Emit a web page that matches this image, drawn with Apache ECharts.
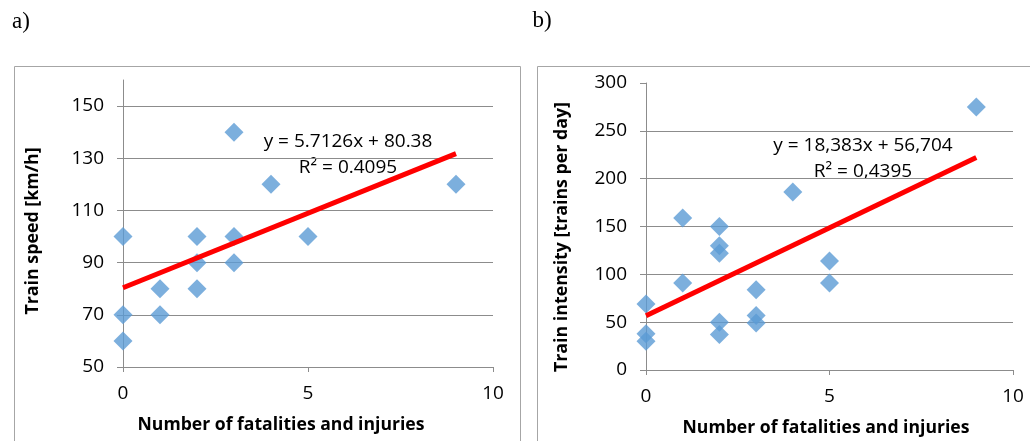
<!DOCTYPE html>
<html>
<head>
<meta charset="utf-8">
<title>fatalities scatter</title>
<script src="https://cdn.jsdelivr.net/npm/echarts@6/dist/echarts.min.js"></script>
<style>
    html, body { margin: 0; padding: 0; background: #fff; }
    #chart { width: 1030px; height: 441px; }
</style>
</head>
<body>
<div id="chart"></div>
<script>
// a) number of fatalities and injuries vs train speed
var speedX = [0, 0, 0, 1, 1, 2, 2, 2, 3, 3, 3, 4, 5, 9];
var speedY = [100, 70, 60, 80, 70, 100, 90, 80, 140, 100, 90, 120, 100, 120];
var speedFit = [5.7126, 80.38];   // slope, intercept
var speedLabels = ['y = 5.7126x + 80.38', 'R² = 0.4095'];

// b) number of fatalities and injuries vs train intensity
var intensX = [0, 0, 0, 1, 1, 2, 2, 2, 2, 2, 3, 3, 3, 4, 5, 5, 9];
var intensY = [69, 38, 30, 159, 91, 150, 130, 122, 50, 37, 84, 57, 49, 186, 114, 91, 275];
var intensFit = [18.383, 56.704];
var intensLabels = ['y = 18,383x + 56,704', 'R² = 0,4395'];

var xTitle = 'Number of fatalities and injuries';
var yTitles = ['Train speed [km/h]', 'Train intensity [trains per day]'];

(function(){
    var box = document.getElementById('chart')
    var myChart = echarts.init(box)

    var font = '"Open Sans", sans-serif'
    var gridColor = '#8c8c8c'

    function pairs(xs, ys) {
        return xs.map(function (x, i) { return [x, ys[i]] })
    }
    // trendline from 0 to the largest x, like excel does
    function fitLine(xs, fit) {
        var xMax = Math.max.apply(null, xs)
        return [[0, fit[1]], [xMax, fit[0] * xMax + fit[1]]]
    }

    function xAxisCfg(gridIndex) {
        return {
            type: 'value', gridIndex: gridIndex,
            min: 0, max: 10, interval: 5,
            axisLine: { onZero: false, lineStyle: { color: gridColor } },
            axisTick: { length: 5, lineStyle: { color: gridColor } },
            splitLine: { show: false },
            axisLabel: { color: '#000', fontFamily: font, fontSize: 19, margin: 17 }
        }
    }
    function yAxisCfg(gridIndex, min, max, interval) {
        return {
            type: 'value', gridIndex: gridIndex,
            min: min, max: max, interval: interval,
            axisLine: { show: true, lineStyle: { color: gridColor } },
            axisTick: { show: true, length: 6, lineStyle: { color: gridColor } },
            splitLine: { showMaxLine: false, lineStyle: { color: gridColor } },
            axisLabel: { color: '#000', fontFamily: font, fontSize: 19, margin: 19, showMaxLabel: max === 300 }
        }
    }

    function txt(x, y, text, opts) {
        opts = opts || {}
        return {
            type: 'text', x: x, y: y, rotation: opts.rot || 0,
            style: {
                text: text, fill: '#000',
                font: (opts.bold ? 'bold ' : '') + (opts.size || 19) + 'px ' + (opts.family || font),
                align: 'center', verticalAlign: 'middle'
            }
        }
    }

    var option = {
        animation: false,
        grid: [
            { left: 123, right: 537, top: 80, bottom: 74 },
            { left: 646, right: 17, top: 83, bottom: 71 }
        ],
        xAxis: [xAxisCfg(0), xAxisCfg(1)],
        yAxis: [yAxisCfg(0, 50, 160, 20), yAxisCfg(1, 0, 300, 50)],
        series: [
            {
                type: 'scatter', xAxisIndex: 0, yAxisIndex: 0,
                symbol: 'diamond', symbolSize: 19,
                itemStyle: { color: '#5b9bd5' },
                data: pairs(speedX, speedY)
            },
            {
                type: 'line', xAxisIndex: 0, yAxisIndex: 0,
                symbol: 'none', lineStyle: { color: '#ff0000', width: 5 },
                data: fitLine(speedX, speedFit), z: 3
            },
            {
                type: 'scatter', xAxisIndex: 1, yAxisIndex: 1,
                symbol: 'diamond', symbolSize: 19,
                itemStyle: { color: '#5b9bd5' },
                data: pairs(intensX, intensY)
            },
            {
                type: 'line', xAxisIndex: 1, yAxisIndex: 1,
                symbol: 'none', lineStyle: { color: '#ff0000', width: 5 },
                data: fitLine(intensX, intensFit), z: 3
            }
        ],
        graphic: [
            // chart frames
            { type: 'rect', shape: { x: 14.5, y: 66.5, width: 506, height: 420 },
              style: { fill: 'none', stroke: '#a6a6a6', lineWidth: 1 } },
            { type: 'rect', shape: { x: 537.5, y: 66.5, width: 520, height: 420 },
              style: { fill: 'none', stroke: '#a6a6a6', lineWidth: 1 } },
            txt(21, 22, 'a)', { size: 23, family: '"Liberation Serif", serif' }),
            txt(542, 21, 'b)', { size: 23, family: '"Liberation Serif", serif' }),
            txt(348, 142, speedLabels[0]),
            txt(348, 168, speedLabels[1]),
            txt(863, 146, intensLabels[0]),
            txt(863, 172, intensLabels[1]),
            txt(281, 425, xTitle, { bold: true, size: 17.6 }),
            txt(826, 428, xTitle, { bold: true, size: 17.6 }),
            txt(33, 231, yTitles[0], { bold: true, size: 17.8, rot: Math.PI / 2 }),
            txt(562, 237, yTitles[1], { bold: true, size: 17.8, rot: Math.PI / 2 })
        ]
    }
    myChart.setOption(option)
})();
</script>
</body>
</html>
